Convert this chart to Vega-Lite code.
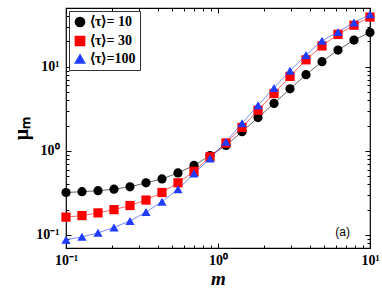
{
  "$schema": "https://vega.github.io/schema/vega-lite/v6.json",
  "width": 304,
  "height": 240,
  "autosize": "none",
  "padding": {"left": 66, "top": 8, "right": 12, "bottom": 44},
  "background": "white",
  "config": {
    "view": {"stroke": "#000", "strokeWidth": 1.2},
    "axis": {"domain": false, "grid": false, "tickColor": "#000", "labelFlush": false, "labelFont": "Liberation Serif", "labelFontWeight": "bold", "labelFontSize": 14, "labelColor": "#000", "titleColor": "#000"},
    "legend": {"title": null, "orient": "none", "legendX": 3, "legendY": 3, "strokeColor": "#333", "strokeWidth": 1, "fillColor": "white", "padding": 4, "zindex": 2,
      "labelFont": "Liberation Serif", "labelFontWeight": "bold", "labelFontSize": 14, "labelColor": "#000", "symbolSize": 85, "symbolOpacity": 1, "rowPadding": 3, "labelOffset": 3}
  },
  "datasets": {
    "series": [
      {"m": 0.1, "mu": 0.32, "tau": "⟨τ⟩= 10"},
      {"m": 0.1274, "mu": 0.327, "tau": "⟨τ⟩= 10"},
      {"m": 0.1624, "mu": 0.336, "tau": "⟨τ⟩= 10"},
      {"m": 0.2069, "mu": 0.35, "tau": "⟨τ⟩= 10"},
      {"m": 0.2637, "mu": 0.374, "tau": "⟨τ⟩= 10"},
      {"m": 0.336, "mu": 0.417, "tau": "⟨τ⟩= 10"},
      {"m": 0.4281, "mu": 0.464, "tau": "⟨τ⟩= 10"},
      {"m": 0.5456, "mu": 0.547, "tau": "⟨τ⟩= 10"},
      {"m": 0.6952, "mu": 0.672, "tau": "⟨τ⟩= 10"},
      {"m": 0.8859, "mu": 0.88, "tau": "⟨τ⟩= 10"},
      {"m": 1.1288, "mu": 1.16, "tau": "⟨τ⟩= 10"},
      {"m": 1.4384, "mu": 1.69, "tau": "⟨τ⟩= 10"},
      {"m": 1.833, "mu": 2.49, "tau": "⟨τ⟩= 10"},
      {"m": 2.3357, "mu": 3.67, "tau": "⟨τ⟩= 10"},
      {"m": 2.9764, "mu": 5.47, "tau": "⟨τ⟩= 10"},
      {"m": 3.7927, "mu": 8.05, "tau": "⟨τ⟩= 10"},
      {"m": 4.8329, "mu": 11.5, "tau": "⟨τ⟩= 10"},
      {"m": 6.1585, "mu": 15.8, "tau": "⟨τ⟩= 10"},
      {"m": 7.8476, "mu": 20.8, "tau": "⟨τ⟩= 10"},
      {"m": 10.0, "mu": 25.6, "tau": "⟨τ⟩= 10"},
      {"m": 0.1, "mu": 0.163, "tau": "⟨τ⟩= 30"},
      {"m": 0.1274, "mu": 0.17, "tau": "⟨τ⟩= 30"},
      {"m": 0.1624, "mu": 0.183, "tau": "⟨τ⟩= 30"},
      {"m": 0.2069, "mu": 0.2, "tau": "⟨τ⟩= 30"},
      {"m": 0.2637, "mu": 0.224, "tau": "⟨τ⟩= 30"},
      {"m": 0.336, "mu": 0.26, "tau": "⟨τ⟩= 30"},
      {"m": 0.4281, "mu": 0.32, "tau": "⟨τ⟩= 30"},
      {"m": 0.5456, "mu": 0.417, "tau": "⟨τ⟩= 30"},
      {"m": 0.6952, "mu": 0.57, "tau": "⟨τ⟩= 30"},
      {"m": 0.8859, "mu": 0.85, "tau": "⟨τ⟩= 30"},
      {"m": 1.1288, "mu": 1.24, "tau": "⟨τ⟩= 30"},
      {"m": 1.4384, "mu": 1.9, "tau": "⟨τ⟩= 30"},
      {"m": 1.833, "mu": 3.04, "tau": "⟨τ⟩= 30"},
      {"m": 2.3357, "mu": 4.81, "tau": "⟨τ⟩= 30"},
      {"m": 2.9764, "mu": 7.69, "tau": "⟨τ⟩= 30"},
      {"m": 3.7927, "mu": 12.1, "tau": "⟨τ⟩= 30"},
      {"m": 4.8329, "mu": 17.7, "tau": "⟨τ⟩= 30"},
      {"m": 6.1585, "mu": 24.3, "tau": "⟨τ⟩= 30"},
      {"m": 7.8476, "mu": 31.2, "tau": "⟨τ⟩= 30"},
      {"m": 10.0, "mu": 39.0, "tau": "⟨τ⟩= 30"},
      {"m": 0.1, "mu": 0.088, "tau": "⟨τ⟩=100"},
      {"m": 0.1274, "mu": 0.095, "tau": "⟨τ⟩=100"},
      {"m": 0.1624, "mu": 0.106, "tau": "⟨τ⟩=100"},
      {"m": 0.2069, "mu": 0.123, "tau": "⟨τ⟩=100"},
      {"m": 0.2637, "mu": 0.147, "tau": "⟨τ⟩=100"},
      {"m": 0.336, "mu": 0.187, "tau": "⟨τ⟩=100"},
      {"m": 0.4281, "mu": 0.249, "tau": "⟨τ⟩=100"},
      {"m": 0.5456, "mu": 0.35, "tau": "⟨τ⟩=100"},
      {"m": 0.6952, "mu": 0.537, "tau": "⟨τ⟩=100"},
      {"m": 0.8859, "mu": 0.81, "tau": "⟨τ⟩=100"},
      {"m": 1.1288, "mu": 1.28, "tau": "⟨τ⟩=100"},
      {"m": 1.4384, "mu": 2.13, "tau": "⟨τ⟩=100"},
      {"m": 1.833, "mu": 3.48, "tau": "⟨τ⟩=100"},
      {"m": 2.3357, "mu": 5.61, "tau": "⟨τ⟩=100"},
      {"m": 2.9764, "mu": 8.97, "tau": "⟨τ⟩=100"},
      {"m": 3.7927, "mu": 13.8, "tau": "⟨τ⟩=100"},
      {"m": 4.8329, "mu": 20.4, "tau": "⟨τ⟩=100"},
      {"m": 6.1585, "mu": 26.0, "tau": "⟨τ⟩=100"},
      {"m": 7.8476, "mu": 33.6, "tau": "⟨τ⟩=100"},
      {"m": 10.0, "mu": 42.0, "tau": "⟨τ⟩=100"}
    ],
    "note": [{"m": 6.6, "mu": 0.108, "label": "(a)"}]
  },
  "resolve": {"axis": {"x": "independent", "y": "independent"}},
  "layer": [
    {
      "data": {"name": "series"},
      "mark": {"type": "line", "strokeWidth": 1, "opacity": 0.6},
      "encoding": {
        "x": {"field": "m", "type": "quantitative", "scale": {"type": "log", "domain": [0.1, 10], "nice": false},
          "axis": {"orient": "bottom", "values": [0.1, 1, 10], "tickSize": -5, "labelPadding": 10,
            "labelExpr": "datum.value < 0.5 ? '10⁻¹' : datum.value < 5 ? '10⁰' : '10¹'",
            "title": "m", "titleFont": "Liberation Serif", "titleFontStyle": "italic", "titleFontWeight": "bold", "titleFontSize": 19, "titlePadding": 2}},
        "y": {"field": "mu", "type": "quantitative", "scale": {"type": "log", "domain": [0.07, 50], "nice": false},
          "axis": {"orient": "left", "values": [0.1, 1, 10], "tickSize": -5, "labelPadding": 12,
            "labelExpr": "datum.value < 0.5 ? '10⁻¹' : datum.value < 5 ? '10⁰' : '10¹'",
            "title": "μₘ", "titleFont": "Liberation Serif", "titleFontWeight": "bold", "titleFontSize": 20, "titlePadding": 4}},
        "color": {"field": "tau", "type": "nominal",
          "scale": {"domain": ["⟨τ⟩= 10", "⟨τ⟩= 30", "⟨τ⟩=100"], "range": ["#000000", "#ff0000", "#1f3cff"]}},
        "detail": {"field": "tau"}
      }
    },
    {
      "data": {"name": "series"},
      "mark": {"type": "point", "filled": true, "opacity": 1, "size": 85},
      "encoding": {
        "x": {"field": "m", "type": "quantitative", "scale": {"type": "log", "domain": [0.1, 10], "nice": false},
          "axis": {"orient": "bottom", "values": [0.2, 0.3, 0.4, 0.5, 0.6, 0.7, 0.8, 0.9, 2, 3, 4, 5, 6, 7, 8, 9], "tickSize": -3, "labels": false, "title": null}},
        "y": {"field": "mu", "type": "quantitative", "scale": {"type": "log", "domain": [0.07, 50], "nice": false},
          "axis": {"orient": "left", "values": [0.08, 0.09, 0.2, 0.3, 0.4, 0.5, 0.6, 0.7, 0.8, 0.9, 2, 3, 4, 5, 6, 7, 8, 9, 20, 30, 40], "tickSize": -3, "labels": false, "title": null}},
        "color": {"field": "tau", "type": "nominal",
          "scale": {"domain": ["⟨τ⟩= 10", "⟨τ⟩= 30", "⟨τ⟩=100"], "range": ["#000000", "#ff0000", "#1f3cff"]}},
        "shape": {"field": "tau", "type": "nominal",
          "scale": {"domain": ["⟨τ⟩= 10", "⟨τ⟩= 30", "⟨τ⟩=100"], "range": ["circle", "square", "triangle-up"]}}
      }
    },
    {
      "data": {"name": "note"},
      "mark": {"type": "text", "font": "Liberation Sans", "fontSize": 12, "color": "#000", "align": "center", "baseline": "middle"},
      "encoding": {
        "x": {"field": "m", "type": "quantitative", "scale": {"type": "log", "domain": [0.1, 10], "nice": false},
          "axis": {"orient": "top", "values": [0.1, 1, 10], "tickSize": -5, "labels": false, "title": null}},
        "y": {"field": "mu", "type": "quantitative", "scale": {"type": "log", "domain": [0.07, 50], "nice": false},
          "axis": {"orient": "right", "values": [0.1, 1, 10], "tickSize": -5, "labels": false, "title": null}},
        "text": {"field": "label"}
      }
    },
    {
      "data": {"name": "note"},
      "mark": {"type": "point", "opacity": 0},
      "encoding": {
        "x": {"field": "m", "type": "quantitative", "scale": {"type": "log", "domain": [0.1, 10], "nice": false},
          "axis": {"orient": "top", "values": [0.2, 0.3, 0.4, 0.5, 0.6, 0.7, 0.8, 0.9, 2, 3, 4, 5, 6, 7, 8, 9], "tickSize": -3, "labels": false, "title": null}},
        "y": {"field": "mu", "type": "quantitative", "scale": {"type": "log", "domain": [0.07, 50], "nice": false},
          "axis": {"orient": "right", "values": [0.08, 0.09, 0.2, 0.3, 0.4, 0.5, 0.6, 0.7, 0.8, 0.9, 2, 3, 4, 5, 6, 7, 8, 9, 20, 30, 40], "tickSize": -3, "labels": false, "title": null}}
      }
    }
  ]
}
